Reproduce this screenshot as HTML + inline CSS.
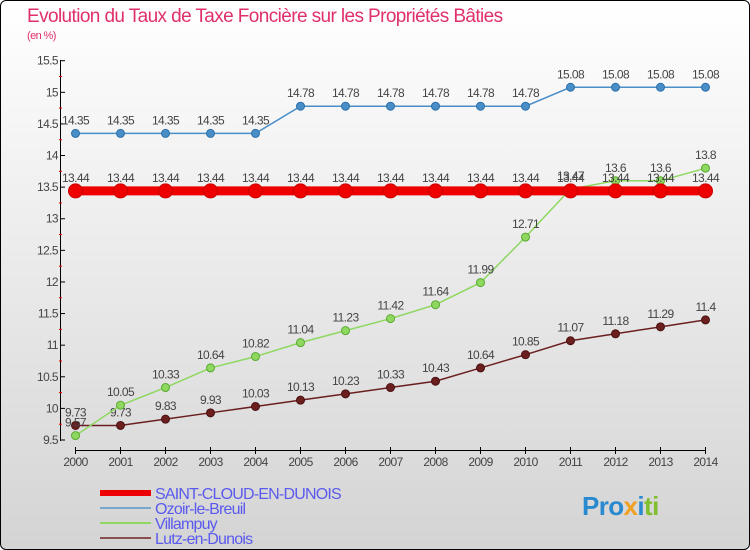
<!DOCTYPE html>
<html><head><meta charset="utf-8"><style>
body{margin:0;width:750px;height:550px;overflow:hidden;font-family:"Liberation Sans",sans-serif}
#wrap{position:absolute;left:0;top:0;width:748px;height:548px;border:1px solid #000;border-radius:6px;background:linear-gradient(#ffffff,#d4d4d4)}
</style></head><body>
<div id="wrap">
<svg id="chart" width="750" height="550" style="position:absolute;left:-1px;top:-1px"></svg>
</div>
<script>
const years=[2000,2001,2002,2003,2004,2005,2006,2007,2008,2009,2010,2011,2012,2013,2014];
const yTicks=[9.5,10,10.5,11,11.5,12,12.5,13,13.5,14,14.5,15,15.5];
const saint=[13.44,13.44,13.44,13.44,13.44,13.44,13.44,13.44,13.44,13.44,13.44,13.44,13.44,13.44,13.44];
const ozoir=[14.35,14.35,14.35,14.35,14.35,14.78,14.78,14.78,14.78,14.78,14.78,15.08,15.08,15.08,15.08];
const villampuy=[9.57,10.05,10.33,10.64,10.82,11.04,11.23,11.42,11.64,11.99,12.71,13.47,13.6,13.6,13.8];
const lutz=[9.73,9.73,9.83,9.93,10.03,10.13,10.23,10.33,10.43,10.64,10.85,11.07,11.18,11.29,11.4];
const NS="http://www.w3.org/2000/svg";
const svg=document.getElementById('chart');
const X=i=>75.5+i*45;
const Y=v=>440-(v-9.5)*(379.3/6);
function el(t,a,p){const e=document.createElementNS(NS,t);for(const k in a)e.setAttribute(k,a[k]);(p||svg).appendChild(e);return e;}
function txt(x,y,s,o,p){const e=el('text',Object.assign({x:x,y:y,'font-size':12,fill:'#444','letter-spacing':'-0.6'},o||{}),p);e.textContent=s;return e;}
let t=txt(27,22,'Evolution du Taux de Taxe Foncière sur les Propriétés Bâties',{'font-size':19,fill:'#e0306a','letter-spacing':'-0.6'});


t=txt(27,39,'(en %)',{'font-size':11,fill:'#e0306a'});


let a=el('line',{x1:60.5,y1:60,x2:60.5,y2:441,stroke:'#000','stroke-width':1});


a=el('line',{x1:75,y1:450.5,x2:706,y2:450.5,stroke:'#000','stroke-width':1});


yTicks.forEach((v,i)=>{
 el('line',{x1:60,y1:Y(v),x2:65,y2:Y(v),stroke:'#000'});
 if(i<yTicks.length-1) el('line',{x1:59,y1:Y(v+0.25),x2:62,y2:Y(v+0.25),stroke:'#e00'});
 const l=txt(58,Y(v)+4,String(v),{'text-anchor':'end'});
 
 
});
years.forEach((y,i)=>{
 el('line',{x1:X(i),y1:447,x2:X(i),y2:454,stroke:'#000'});
 const l=txt(X(i),466,String(y),{'text-anchor':'middle'});
 
 
});
function series(vals,color,w,r,name,dark){
 const g=el('g',{});
 
 
 el('polyline',{points:vals.map((v,i)=>X(i)+','+Y(v)).join(' '),fill:'none',stroke:color,'stroke-width':w},g);
 vals.forEach((v,i)=>{
  const c=el('circle',{cx:X(i),cy:Y(v),r:r,fill:color,stroke:dark,'stroke-width':1},g);
  
  
  const l=txt(X(i),Y(v)-9,String(v),{'text-anchor':'middle'},g);
  
  
 });
}
series(ozoir,'#4a8ec8',1.5,4,'ozoir','#2a6ea8');
series(lutz,'#6b1f1f',1.5,4,'lutz','#4a1010');
series(villampuy,'#8ed860',1.5,4,'villampuy','#5aa830');
series(saint,'#ee0000',9,7,'saint-cloud','#cc0000');
const leg=[['SAINT-CLOUD-EN-DUNOIS','#ee0000',6],['Ozoir-le-Breuil','#7aa8cc',2],['Villampuy','#8ed860',2],['Lutz-en-Dunois','#8a5050',2]];
leg.forEach((d,i)=>{
 const y=493+i*15;
 const g=el('g',{});
 
 
 el('line',{x1:100,y1:y,x2:151,y2:y,stroke:d[1],'stroke-width':d[2]},g);
 txt(155,y+6,d[0],{'font-size':16,fill:'#5a5aee','letter-spacing':'-0.8'},g);
});
const lg=txt(582,515,'Pro',{'font-size':26,fill:'#2a8ad0','font-weight':'bold'});


const ts=el('tspan',{fill:'#f0a020'},lg);ts.textContent='x';
const ts2=el('tspan',{fill:'#2a8ad0'},lg);ts2.textContent='i';
const ts3=el('tspan',{fill:'#80c030'},lg);ts3.textContent='ti';
</script>
</body></html>
